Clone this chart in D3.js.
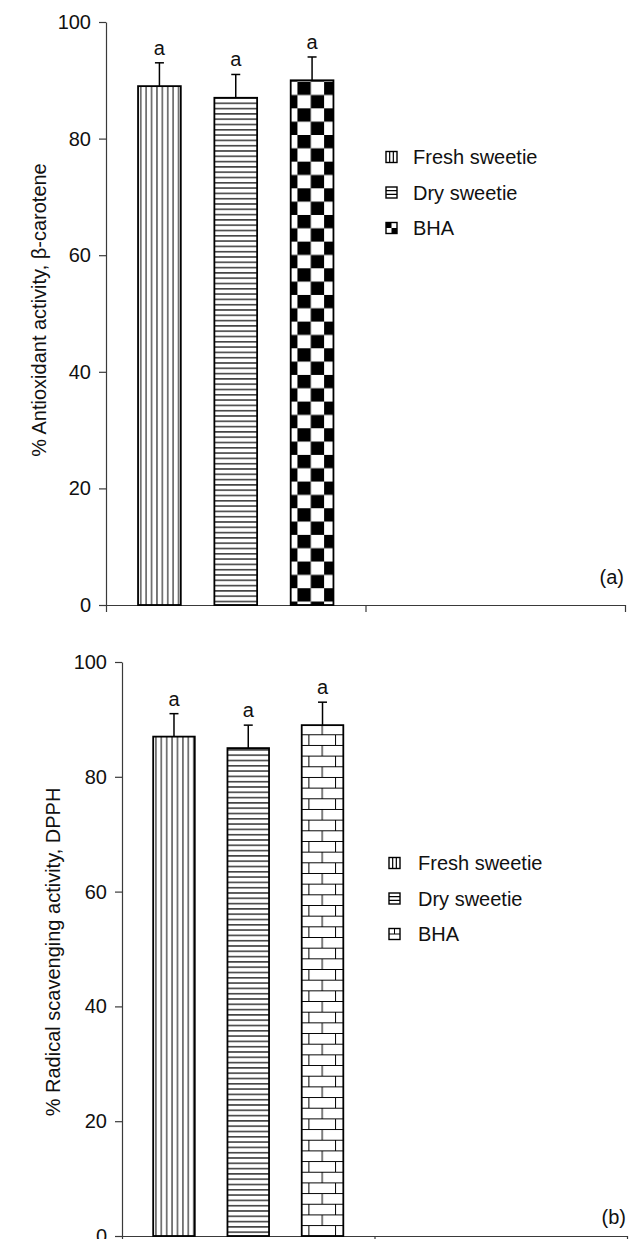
<!DOCTYPE html>
<html>
<head>
  <meta charset="UTF-8">
  <style>
    body { margin: 0; background: #fff; }
    svg { display: block; }
    text { font-family: "Liberation Sans", Arial, sans-serif; fill: #111; }
  </style>
</head>
<body>
<svg id="chart"></svg>
<script src="https://d3js.org/d3.v7.min.js"></script>
<script>

// data
const series = ["Fresh sweetie", "Dry sweetie", "BHA"];
const groups = ["g1", "g2"];          // second category is empty
const antioxValues = [89, 87, 90];
const antioxErrors = [4, 4, 4];
const dpphValues = [87, 85, 89];
const dpphErrors = [4, 4, 4];
const sigLetters = ["a", "a", "a"];
const yTicks = [0, 20, 40, 60, 80, 100];

let width = 634, height = 1239;
let fs = 20;
let svg = d3.select("#chart")
    .attr("width", width)
    .attr("height", height);

let defs = svg.append("defs");

// vertical lines
let pv = defs.append("pattern").attr("id", "vlines")
    .attr("patternUnits", "userSpaceOnUse")
    .attr("width", 5.4).attr("height", 10);
pv.append("rect").attr("width", 5.4).attr("height", 10).attr("fill", "#fff");
pv.append("line").attr("x1", 2.7).attr("x2", 2.7).attr("y1", 0).attr("y2", 10)
    .attr("stroke", "#000").attr("stroke-width", 1);

// horizontal lines
let ph = defs.append("pattern").attr("id", "hlines")
    .attr("patternUnits", "userSpaceOnUse")
    .attr("width", 10).attr("height", 5.3);
ph.append("rect").attr("width", 10).attr("height", 5.3).attr("fill", "#fff");
ph.append("line").attr("x1", 0).attr("x2", 10).attr("y1", 2.6).attr("y2", 2.6)
    .attr("stroke", "#000").attr("stroke-width", 1.2);

// checkerboard
let c = 13.33;
let pc = defs.append("pattern").attr("id", "checker")
    .attr("patternUnits", "userSpaceOnUse")
    .attr("x", 300).attr("y", 81.67)
    .attr("width", 2 * c).attr("height", 2 * c);
pc.append("rect").attr("width", 2 * c).attr("height", 2 * c).attr("fill", "#fff");
pc.append("rect").attr("width", c).attr("height", c).attr("fill", "#000");
pc.append("rect").attr("x", c).attr("y", c).attr("width", c).attr("height", c).attr("fill", "#000");

// brick
let bh = 10.67, bw = 26.67;
let pb = defs.append("pattern").attr("id", "brick")
    .attr("patternUnits", "userSpaceOnUse")
    .attr("x", 6.67).attr("y", 905)
    .attr("width", bw).attr("height", 2 * bh);
pb.append("rect").attr("width", bw).attr("height", 2 * bh).attr("fill", "#fff");
pb.append("path")
    .attr("d", `M0,0.5H${bw}M0,${bh + 0.5}H${bw}M0.5,0V${bh}M${bw / 2 + 0.5},${bh}V${2 * bh}`)
    .attr("stroke", "#000").attr("stroke-width", 1).attr("fill", "none");

function drawPanel(cfg) {
    let g = svg.append("g");

    let x = d3.scaleBand()
        .domain(groups)
        .range([cfg.x0, cfg.x1]);

    let xs = d3.scaleBand()
        .domain(series)
        .range([0, x.bandwidth()])
        .paddingInner(0.44)
        .paddingOuter(0.42);

    let y = d3.scaleLinear()
        .domain([0, 100])
        .range([cfg.y0, cfg.y1]);

    // axes
    let yAxis = d3.axisLeft(y).tickValues(yTicks).tickSize(7).tickPadding(8).tickSizeOuter(0);
    let ya = g.append("g")
        .attr("transform", `translate(${cfg.x0},0)`)
        .call(yAxis);
    ya.selectAll("text").attr("font-size", fs).attr("font-family", "Liberation Sans, Arial, sans-serif").attr("fill", "#111");

    let xAxis = d3.axisBottom(d3.scaleLinear().domain([0, 2]).range([cfg.x0, cfg.x1]))
        .tickValues([0, 1, 2]).tickSize(7).tickFormat("").tickSizeOuter(0);
    g.append("g")
        .attr("transform", `translate(0,${cfg.y0})`)
        .call(xAxis);

    g.selectAll(".domain, .tick line").attr("stroke", "#3a3a3a").attr("stroke-width", 1.2);

    // bars
    let bars = g.append("g").selectAll("g")
        .data(series.map((s, i) => ({ s: s, v: cfg.values[i], e: cfg.errors[i], l: sigLetters[i], fill: cfg.fills[i] })))
        .join("g")
        .attr("transform", d => `translate(${x("g1") + xs(d.s)},0)`);

    bars.append("line")
        .attr("x1", xs.bandwidth() / 2).attr("x2", xs.bandwidth() / 2)
        .attr("y1", d => y(d.v)).attr("y2", d => y(d.v + d.e))
        .attr("stroke", "#000").attr("stroke-width", 1.5);
    bars.append("line")
        .attr("x1", xs.bandwidth() / 2 - 4.5).attr("x2", xs.bandwidth() / 2 + 4.5)
        .attr("y1", d => y(d.v + d.e)).attr("y2", d => y(d.v + d.e))
        .attr("stroke", "#000").attr("stroke-width", 1.5);

    bars.append("rect")
        .attr("x", 0)
        .attr("y", d => y(d.v))
        .attr("width", xs.bandwidth())
        .attr("height", d => y(0) - y(d.v))
        .attr("fill", d => `url(#${d.fill})`)
        .attr("stroke", "#000")
        .attr("stroke-width", 1.8);

    bars.append("text")
        .attr("x", xs.bandwidth() / 2)
        .attr("y", d => y(d.v + d.e) - 8)
        .attr("text-anchor", "middle")
        .attr("font-size", fs)
        .text(d => d.l);

    // y label
    g.append("text")
        .attr("transform", `translate(${cfg.labelX},${cfg.labelY}) rotate(-90)`)
        .attr("text-anchor", "middle")
        .attr("font-size", fs)
        .text(cfg.label);

    // panel letter
    g.append("text")
        .attr("x", cfg.x1 - 1)
        .attr("y", cfg.tagY)
        .attr("text-anchor", "end")
        .attr("font-size", fs)
        .text(cfg.tag);

    // legend
    let lg = g.append("g").selectAll("g")
        .data(series)
        .join("g")
        .attr("transform", (d, i) => `translate(${cfg.legX},${cfg.legY + i * 35.5})`);

    lg.each(function (d, i) {
        let s = d3.select(this);
        let k = 11;
        s.append("rect").attr("x", 0).attr("y", -k / 2).attr("width", k).attr("height", k)
            .attr("fill", "#fff").attr("stroke", "#000").attr("stroke-width", 1.4);
        let kind = cfg.fills[i];
        if (kind === "vlines") {
            s.append("path").attr("d", `M${k / 3},${-k / 2}V${k / 2}M${2 * k / 3},${-k / 2}V${k / 2}`)
                .attr("stroke", "#000").attr("stroke-width", 1.2);
        } else if (kind === "hlines") {
            s.append("path").attr("d", `M0,${-k / 6}H${k}M0,${k / 6}H${k}`)
                .attr("stroke", "#000").attr("stroke-width", 1.2);
        } else if (kind === "checker") {
            s.append("rect").attr("x", 0).attr("y", -k / 2).attr("width", k / 2).attr("height", k / 2).attr("fill", "#000");
            s.append("rect").attr("x", k / 2).attr("y", 0).attr("width", k / 2).attr("height", k / 2).attr("fill", "#000");
        } else if (kind === "brick") {
            s.append("path").attr("d", `M0,0H${k}M${k / 2},${-k / 2}V0`)
                .attr("stroke", "#000").attr("stroke-width", 1);
        }
        s.append("text")
            .attr("x", cfg.legTextDx)
            .attr("y", 7)
            .attr("font-size", fs)
            .text(d);
    });
}

drawPanel({
    x0: 106, x1: 625, y0: 605, y1: 22,
    values: antioxValues, errors: antioxErrors,
    fills: ["vlines", "hlines", "checker"],
    label: "% Antioxidant activity, \u03b2-carotene", labelX: 46, labelY: 310,
    tag: "(a)", tagY: 584,
    legX: 386, legY: 157, legTextDx: 27
});

drawPanel({
    x0: 122, x1: 627, y0: 1236, y1: 662,
    values: dpphValues, errors: dpphErrors,
    fills: ["vlines", "hlines", "brick"],
    label: "% Radical scavenging activity, DPPH", labelX: 60, labelY: 952,
    tag: "(b)", tagY: 1224,
    legX: 389, legY: 863, legTextDx: 29
});

</script>
</body>
</html>
